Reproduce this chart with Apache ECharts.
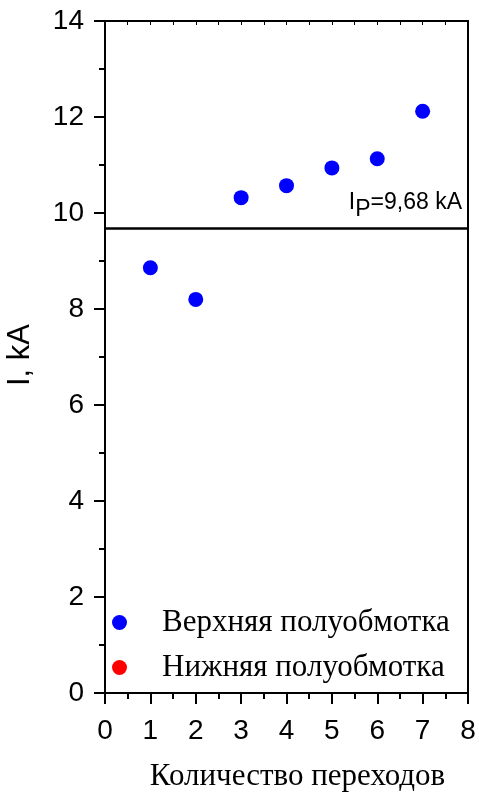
<!DOCTYPE html>
<html>
<head>
<meta charset="utf-8">
<script src="https://cdn.jsdelivr.net/npm/echarts@6/dist/echarts.min.js"></script>
<style>
  html, body { margin: 0; padding: 0; background: #fff; }
  #main { width: 479px; height: 801px; }
</style>
</head>
<body>
<div id="main"></div>
<script>
// данные
const transitions = [1, 2, 3, 4, 5, 6, 7];
const upperCurrent = [8.86, 8.20, 10.32, 10.57, 10.94, 11.13, 12.12];
const lowerCurrent = [];
const ratedCurrent = 9.68;
const seriesNames = ["Верхняя полуобмотка", "Нижняя полуобмотка"];

const upperData = transitions.map((x, i) => [x, upperCurrent[i]]);

const myChart = echarts.init(document.getElementById("main"), null, { renderer: "canvas" });

const axisLine = { show: true, onZero: false, lineStyle: { color: "#000", width: 2 } };
const sans = "Liberation Sans, Arial, sans-serif";
const serif = "Liberation Serif, Times New Roman, serif";

const option = {
  animation: false,
  grid: { left: 105, right: 11, top: 21, bottom: 108, containLabel: false, outerBoundsMode: "none" },
  legend: {
    orient: "vertical",
    left: 107,
    top: 602,
    padding: 5,
    icon: "circle",
    itemWidth: 15,
    itemHeight: 15,
    itemGap: 14,
    selectedMode: false,
    data: seriesNames,
    textStyle: {
      fontFamily: serif,
      fontSize: 31,
      color: "#000",
      padding: [0, 0, 0, 30],
      lineHeight: 30
    }
  },
  xAxis: [
    {
      type: "value",
      min: 0,
      max: 8,
      interval: 1,
      name: "Количество переходов",
      nameLocation: "middle",
      nameGap: 68,
      nameTextStyle: { fontFamily: serif, fontSize: 31, color: "#000", padding: [0, 0, 0, 22] },
      axisLine: axisLine,
      axisTick: { show: true, inside: false, length: 11, lineStyle: { color: "#000", width: 2 } },
      minorTick: { show: true, splitNumber: 2, length: 6, lineStyle: { color: "#000", width: 2 } },
      axisLabel: { fontFamily: sans, fontSize: 28, color: "#000", margin: 24 },
      splitLine: { show: false }
    },
    {
      type: "value",
      position: "top",
      min: 0,
      max: 8,
      interval: 0.5,
      axisLine: axisLine,
      axisTick: { show: true, inside: true, length: 4, lineStyle: { color: "#000", width: 1 } },
      axisLabel: { show: false },
      splitLine: { show: false }
    }
  ],
  yAxis: [
    {
      type: "value",
      min: 0,
      max: 14,
      interval: 2,
      name: "I, kA",
      nameLocation: "middle",
      nameGap: 69,
      nameRotate: 90,
      nameTextStyle: { fontFamily: sans, fontSize: 31, color: "#000", padding: [0, 0, 0, 4] },
      axisLine: axisLine,
      axisTick: { show: true, inside: false, length: 11, lineStyle: { color: "#000", width: 2 } },
      minorTick: { show: true, splitNumber: 2, length: 6, lineStyle: { color: "#000", width: 2 } },
      axisLabel: { fontFamily: sans, fontSize: 28, color: "#000", margin: 21 },
      splitLine: { show: false }
    },
    {
      type: "value",
      position: "right",
      min: 0,
      max: 14,
      axisLine: axisLine,
      axisTick: { show: false },
      axisLabel: { show: false },
      splitLine: { show: false }
    }
  ],
  series: [
    {
      name: seriesNames[0],
      type: "scatter",
      data: upperData,
      symbolSize: 15,
      itemStyle: { color: "#0000ff", opacity: 1 },
      markLine: {
        silent: true,
        symbol: "none",
        lineStyle: { color: "#000", width: 2.5, type: "solid" },
        label: {
          show: true,
          position: "insideEndTop",
          distance: [6, 7],
          formatter: "{a|I}{b|P}{a|=9,68 kA}",
          rich: {
            a: { fontFamily: sans, fontSize: 23, color: "#000" },
            b: { fontFamily: sans, fontSize: 23, color: "#000", padding: [14, 0, 0, 0] }
          }
        },
        data: [{ yAxis: ratedCurrent }]
      }
    },
    {
      name: seriesNames[1],
      type: "scatter",
      data: lowerCurrent,
      symbolSize: 15,
      itemStyle: { color: "#ff0000", opacity: 1 }
    }
  ]
};

option && myChart.setOption(option);
</script>
</body>
</html>
